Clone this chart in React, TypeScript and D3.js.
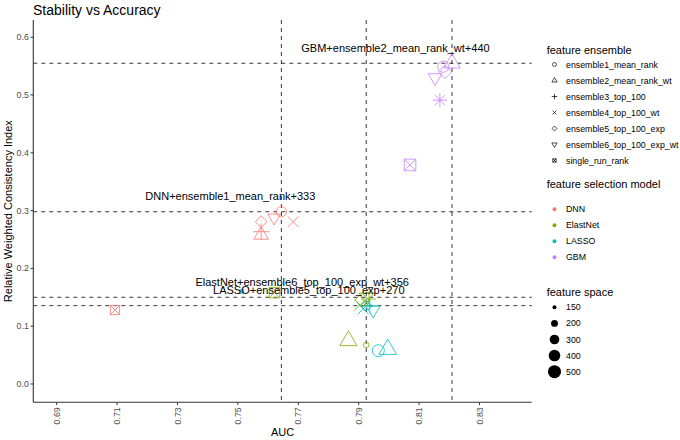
import React from "react";
import * as d3 from "d3";

const models = ["DNN", "ElastNet", "LASSO", "GBM"];
const modelColors = ["#F8766D", "#7CAE00", "#00BFC4", "#C77CFF"];
const ensembles = [
  "ensemble1_mean_rank",
  "ensemble2_mean_rank_wt",
  "ensemble3_top_100",
  "ensemble4_top_100_wt",
  "ensemble5_top_100_exp",
  "ensemble6_top_100_exp_wt",
  "single_run_rank",
];

// values per model, in ensemble order
const dnnAUC = [0.7644, 0.7577, 0.7577, 0.7683, 0.7577, 0.762, 0.7093];
const dnnRWCI = [0.298, 0.2578, 0.2635, 0.2808, 0.2808, 0.2877, 0.128];
const dnnFS = [333, 360, 400, 350, 290, 290, 340];

const enAUC = [0.7925, 0.7866, 0.7934, 0.7904, 0.7911, 0.7925, 0.7621];
const enRWCI = [0.0675, 0.0749, 0.147, 0.1367, 0.1453, 0.15, 0.158];
const enFS = [170, 480, 350, 380, 380, 356, 420];

const lassoAUC = [0.7965, 0.7996, 0.7937, 0.7915, 0.7925, 0.7948, 0.7513];
const lassoRWCI = [0.0576, 0.06, 0.135, 0.13, 0.1355, 0.128, 0.16];
const lassoFS = [430, 500, 300, 360, 270, 330, 150];

const gbmAUC = [0.818, 0.8209, 0.8169, 0.8169, 0.8186, 0.8153, 0.807];
const gbmRWCI = [0.549, 0.555, 0.491, 0.491, 0.54, 0.53, 0.379];
const gbmFS = [380, 440, 320, 320, 350, 330, 500];

const aucByModel = [dnnAUC, enAUC, lassoAUC, gbmAUC];
const rwciByModel = [dnnRWCI, enRWCI, lassoRWCI, gbmRWCI];
const fsByModel = [dnnFS, enFS, lassoFS, gbmFS];

// best points that get a label + reference lines: [model index, ensemble index]
const labelledModel = [0, 1, 2, 3];
const labelledEnsemble = [0, 5, 4, 1];

const xTicks = [0.69, 0.71, 0.73, 0.75, 0.77, 0.79, 0.81, 0.83];
const yTicks = [0.0, 0.1, 0.2, 0.3, 0.4, 0.5, 0.6];
const sizeBreaks = [150, 200, 300, 400, 500];

const FONT = "'Liberation Sans', Arial, sans-serif";

const TRC0 = 1.55512030155621416073;
const TRC1 = TRC0 * Math.sqrt(3) / 2;
const TRC2 = TRC0 / 2;
const DMDC = 1.25331413731550025119;
const SQRC = 0.88622692545275801364;

function Shape({ idx, x, y, r, color, sw = 0.8 }: any) {
  const common = { fill: "none", stroke: color, strokeWidth: sw };
  switch (idx) {
    case 0:
      return <circle cx={x} cy={y} r={r} {...common} />;
    case 1: {
      const p = `M${x},${y - r * TRC0}L${x + r * TRC1},${y + r * TRC2}L${x - r * TRC1},${y + r * TRC2}Z`;
      return <path d={p} {...common} />;
    }
    case 2: {
      const h = r * Math.SQRT2;
      return <path d={`M${x - h},${y}L${x + h},${y}M${x},${y - h}L${x},${y + h}`} {...common} />;
    }
    case 3:
      return <path d={`M${x - r},${y - r}L${x + r},${y + r}M${x - r},${y + r}L${x + r},${y - r}`} {...common} />;
    case 4: {
      const h = r * DMDC;
      return <path d={`M${x},${y - h}L${x + h},${y}L${x},${y + h}L${x - h},${y}Z`} {...common} />;
    }
    case 5: {
      const p = `M${x},${y + r * TRC0}L${x + r * TRC1},${y - r * TRC2}L${x - r * TRC1},${y - r * TRC2}Z`;
      return <path d={p} {...common} />;
    }
    default: {
      const h = r * SQRC;
      return (
        <path
          d={`M${x - h},${y - h}H${x + h}V${y + h}H${x - h}ZM${x - h},${y - h}L${x + h},${y + h}M${x - h},${y + h}L${x + h},${y - h}`}
          {...common}
        />
      );
    }
  }
}

let measureCtx: CanvasRenderingContext2D | null = null;
function textWidth(s: string, size: number) {
  if (!measureCtx) measureCtx = document.createElement("canvas").getContext("2d");
  if (!measureCtx) return s.length * size * 0.55;
  measureCtx.font = `${size}px 'Liberation Sans', Arial, sans-serif`;
  return measureCtx.measureText(s).width;
}

export default function App() {
  const W = 680;
  const H = 440;
  const left = 33.3;
  const right = 531.7;
  const top = 20;
  const bottom = 402.3;

  const x = d3.scaleLinear().domain([0.68225, 0.8473]).range([left, right]);
  const y = d3.scaleLinear().domain([-0.0317, 0.6298]).range([bottom, top]);
  const t = d3.scaleLinear().domain([145, 530]).range([0, 1]).clamp(true);
  const ptR = (v: number) => {
    const size = 1 + 5 * Math.sqrt(t(v));
    return 0.375 * (size * 2.845 + 0.94);
  };

  const points: any[] = [];
  models.forEach((m, mi) => {
    ensembles.forEach((e, ei) => {
      points.push({
        mi,
        ei,
        auc: aucByModel[mi][ei],
        rwci: rwciByModel[mi][ei],
        fs: fsByModel[mi][ei],
      });
    });
  });

  const labelled = labelledModel.map((mi, k) => {
    const ei = labelledEnsemble[k];
    return {
      auc: aucByModel[mi][ei],
      rwci: rwciByModel[mi][ei],
      text: `${models[mi]}+${ensembles[ei]}+${fsByModel[mi][ei]}`,
    };
  });

  const vLines = Array.from(new Set(labelled.map((d) => d.auc)));
  const hLines = labelled.map((d) => d.rwci);

  const lx = 546.7;
  const keyX = 554.5;
  const txtX = 566;

  return (
    <svg
      width={W}
      height={H}
      style={{ position: "absolute", left: 0, top: 0, background: "#fff" }}
      fontFamily={FONT}
    >
      <rect width={W} height={H} fill="#fff" />
      <text x={33} y={14.5} fontSize={14} fill="#000">
        Stability vs Accuracy
      </text>

      {/* reference lines */}
      {hLines.map((v, i) => (
        <line key={"h" + i} x1={left} x2={right} y1={y(v)} y2={y(v)} stroke="#000" strokeWidth={0.8} strokeDasharray="4,4" />
      ))}
      {vLines.map((v, i) => (
        <line key={"v" + i} x1={x(v)} x2={x(v)} y1={top} y2={bottom} stroke="#000" strokeWidth={0.8} strokeDasharray="4,4" />
      ))}

      {/* points */}
      {points.map((p, i) => (
        <Shape key={i} idx={p.ei} x={x(p.auc)} y={y(p.rwci)} r={ptR(p.fs)} color={modelColors[p.mi]} />
      ))}

      {/* labels */}
      {labelled.map((d, i) => {
        const w = textWidth(d.text, 11);
        return (
          <text key={"l" + i} x={x(d.auc) - 0.8 * w} y={y(d.rwci) - 11.3} fontSize={11} fill="#000">
            {d.text}
          </text>
        );
      })}

      {/* axes */}
      <line x1={left} x2={left} y1={top} y2={bottom} stroke="#333" strokeWidth={1.1} />
      <line x1={left} x2={right} y1={bottom} y2={bottom} stroke="#333" strokeWidth={1.1} />
      {yTicks.map((v) => (
        <g key={"yt" + v}>
          <line x1={left - 2.75} x2={left} y1={y(v)} y2={y(v)} stroke="#333" strokeWidth={1} />
          <text x={left - 4.5} y={y(v)} dy="0.35em" textAnchor="end" fontSize={8.8} fill="#4D4D4D">
            {d3.format(".1f")(v)}
          </text>
        </g>
      ))}
      {xTicks.map((v) => (
        <g key={"xt" + v}>
          <line x1={x(v)} x2={x(v)} y1={bottom} y2={bottom + 2.75} stroke="#333" strokeWidth={1} />
          <text
            transform={`translate(${x(v)},${bottom + 5}) rotate(-90)`}
            dy="0.35em"
            textAnchor="end"
            fontSize={8.8}
            fill="#4D4D4D"
          >
            {d3.format(".2f")(v)}
          </text>
        </g>
      ))}
      <text x={(left + right) / 2} y={436} textAnchor="middle" fontSize={11} fill="#000">
        AUC
      </text>
      <text
        transform={`translate(11.5,${(top + bottom) / 2}) rotate(-90)`}
        textAnchor="middle"
        fontSize={11}
        fill="#000"
      >
        Relative Weighted Consistency Index
      </text>

      {/* legend: feature ensemble */}
      <text x={lx} y={54} fontSize={11} fill="#000">
        feature ensemble
      </text>
      {ensembles.map((e, i) => {
        const yy = 64.5 + i * 16;
        return (
          <g key={"le" + i}>
            <Shape idx={i} x={keyX} y={yy} r={1.95} color="#000" sw={0.7} />
            <text x={txtX} y={yy} dy="0.35em" fontSize={8.8} fill="#000">
              {e}
            </text>
          </g>
        );
      })}

      {/* legend: feature selection model */}
      <text x={lx} y={188} fontSize={11} fill="#000">
        feature selection model
      </text>
      {models.map((m, i) => {
        const yy = 209.3 + i * 16;
        return (
          <g key={"lm" + i}>
            <circle cx={keyX} cy={yy} r={1.95} fill={modelColors[i]} />
            <text x={txtX} y={yy} dy="0.35em" fontSize={8.8} fill="#000">
              {m}
            </text>
          </g>
        );
      })}

      {/* legend: feature space */}
      <text x={lx} y={295.5} fontSize={11} fill="#000">
        feature space
      </text>
      {sizeBreaks.map((s, i) => {
        const yy = 307.3 + i * 16.1;
        return (
          <g key={"ls" + i}>
            <circle cx={keyX} cy={yy} r={ptR(s)} fill="#000" />
            <text x={txtX} y={yy} dy="0.35em" fontSize={8.8} fill="#000">
              {s}
            </text>
          </g>
        );
      })}
    </svg>
  );
}
